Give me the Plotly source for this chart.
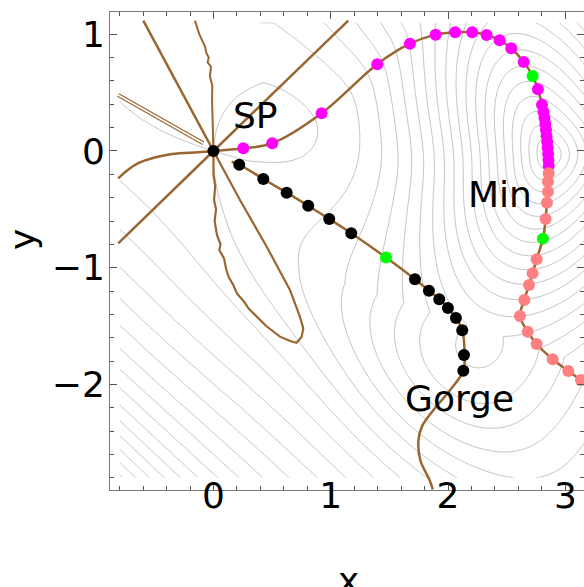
import numpy as np
import plotly.graph_objects as go

# ---------------- data ----------------
sp_x = [0.0]
sp_y = [0.0]

black_x = [0.220, 0.425, 0.624, 0.808, 0.987, 1.175, 1.718, 1.837, 1.925, 1.999, 2.067, 2.121, 2.136, 2.130]
black_y = [-0.117, -0.240, -0.357, -0.469, -0.583, -0.705, -1.099, -1.197, -1.271, -1.345, -1.431, -1.536, -1.748, -1.883]

green_x = [1.471, 2.721, 2.809]
green_y = [-0.913, 0.643, -0.751]

magenta_x = [0.254, 0.501, 0.922, 1.396, 1.675, 1.894, 2.061, 2.206, 2.329, 2.440, 2.539, 2.645,
             2.766, 2.801, 2.814, 2.822, 2.829, 2.835, 2.840, 2.845, 2.849, 2.853, 2.856, 2.858]
magenta_y = [0.023, 0.066, 0.323, 0.744, 0.919, 0.997, 1.017, 1.017, 0.994, 0.949, 0.880, 0.763,
             0.529, 0.397, 0.334, 0.283, 0.231, 0.180, 0.129, 0.077, 0.026, -0.026, -0.077, -0.129]

pink_x = [2.858, 2.852, 2.852, 2.843, 2.832, 2.755, 2.721, 2.690, 2.650, 2.613, 2.679, 2.755, 2.892, 3.025, 3.133]
pink_y = [-0.191, -0.263, -0.349, -0.443, -0.583, -0.928, -1.048, -1.148, -1.277, -1.414, -1.548, -1.654, -1.785, -1.885, -1.962]

# brown curves
upper_path_x = [0.0, 0.254, 0.501, 0.922, 1.396, 1.675, 1.894, 2.061, 2.206, 2.329, 2.440, 2.539, 2.645, 2.721,
                2.766, 2.801, 2.829, 2.845, 2.858, 2.858, 2.852, 2.843, 2.832, 2.809, 2.755, 2.721, 2.690, 2.650,
                2.613, 2.679, 2.755, 2.892, 3.025, 3.133, 3.17]
upper_path_y = [0.0, 0.023, 0.066, 0.323, 0.744, 0.919, 0.997, 1.017, 1.017, 0.994, 0.949, 0.880, 0.763, 0.643,
                0.529, 0.397, 0.231, 0.077, -0.077, -0.191, -0.349, -0.443, -0.583, -0.751, -0.928, -1.048, -1.148, -1.277,
                -1.414, -1.548, -1.654, -1.785, -1.885, -1.962, -1.99]

gorge_path_x = [0.155, 0.220, 0.425, 0.624, 0.808, 0.987, 1.175, 1.471, 1.718, 1.837, 1.925, 1.999, 2.067, 2.121,
                2.140, 2.130, 2.018, 1.876, 1.777, 1.748, 1.763, 1.842, 1.870]
gorge_path_y = [-0.092, -0.117, -0.240, -0.357, -0.469, -0.583, -0.705, -0.913, -1.099, -1.197, -1.271, -1.345, -1.431, -1.536,
                -1.700, -1.883, -2.048, -2.219, -2.362, -2.476, -2.648, -2.819, -2.90]

ray_ur_x = [0.0, 1.149]
ray_ur_y = [0.0, 1.117]
ray_ul_x = [0.0, -0.598]
ray_ul_y = [0.0, 1.117]
ray_ll_x = [0.0, -0.812]
ray_ll_y = [0.0, -0.791]
hollow_x = [-0.812, -0.087]
hollow_y = [0.480, 0.066]
left_curve_x = [0.0, -0.130, -0.356, -0.641, -0.812]
left_curve_y = [0.0, -0.011, -0.026, -0.105, -0.234]
jag_up_x = [-0.158, -0.120, -0.072, -0.060, -0.040, -0.050, -0.021, -0.030, -0.010, -0.012, 0.0]
jag_up_y = [1.117, 1.000, 0.894, 0.840, 0.800, 0.760, 0.722, 0.640, 0.560, 0.437, 0.0]
loop_x = [0.0, 0.226, 0.454, 0.652, 0.737, 0.766, 0.752, 0.709, 0.660, 0.567, 0.450, 0.370, 0.300, 0.260,
          0.200, 0.170, 0.130, 0.110, 0.090, 0.050, 0.060, 0.030, 0.020, 0.010, 0.022, 0.005, 0.015, 0.0, 0.0]
loop_y = [0.0, -0.420, -0.820, -1.191, -1.420, -1.520, -1.591, -1.643, -1.630, -1.591, -1.500, -1.420, -1.350, -1.290,
          -1.220, -1.150, -1.080, -1.020, -0.920, -0.850, -0.800, -0.720, -0.660, -0.600, -0.500, -0.420, -0.300, -0.200, 0.0]

labels = ["SP", "Min", "Gorge"]
label_x = [0.362, 2.442, 2.101]
label_y = [0.300, -0.375, -2.118]

x_ticks = [0, 1, 2, 3]
y_ticks = [-2, -1, 0, 1]
y_ticktext = ["\u22122", "\u22121", "0", "1"]

# ---------------- model surface for the grey contours ----------------
xs = np.linspace(-0.8, 3.2, 320)
ys = np.linspace(-2.8, 1.1, 320)
X, Y = np.meshgrid(xs, ys)


def softplus(t):
    return np.logaddexp(0.0, t)


def seg_r(px, py, a, b, alpha, s_start=0.0):
    ax, ay = a
    bx, by = b
    vx, vy = bx - ax, by - ay
    L2 = vx * vx + vy * vy
    t = np.clip(((px - ax) * vx + (py - ay) * vy) / L2, 0, 1)
    d2 = (px - ax - t * vx) ** 2 + (py - ay - t * vy) ** 2
    return np.sqrt(d2 + (s_start + alpha * t * np.sqrt(L2)) ** 2)


def field(px, py):
    B = 1.83 * np.exp(-0.6 * (px + py))
    M = (2.86, -0.03)
    P1 = (2.3, 1.3)
    P2 = (0.6, 1.6)
    s1 = 0.5 * np.hypot(P1[0] - M[0], P1[1] - M[1])
    r1 = seg_r(px, py, M, P1, 0.5)
    r2 = seg_r(px, py, P1, P2, 0.35, s1)
    r3 = seg_r(px, py, M, (2.35, -1.55), 0.6)
    w = 0.06
    r = -w * np.log(np.exp(-r1 / w) + np.exp(-r2 / w) + np.exp(-r3 / w))
    FM = -15 * 0.3 * softplus((1.2 - r) / 0.3)
    gx, gy = 1.95, -2.15
    ug = -0.72 * (px - gx) + 0.70 * (py - gy)
    vg = 0.70 * (px - gx) + 0.72 * (py - gy)
    FG = -2.0 * np.exp(-ug ** 2 / (2 * 1.5 ** 2) - vg ** 2 / (2 * 0.5 ** 2))
    return B + FM + FG


h = 1e-4
g0x = (field(h, 0.0) - field(-h, 0.0)) / (2 * h)
g0y = (field(0.0, h) - field(0.0, -h)) / (2 * h)
Wn = np.exp(-(X ** 2 + Y ** 2) / 3.0)
Z = field(X, Y) - (g0x * X + g0y * Y) * Wn + 1.2 * X * Y * np.exp(-(X ** 2 + Y ** 2) / 1.5)
f_sp = float(field(0.0, 0.0))
level_start = f_sp - 40.0
level_end = f_sp + 40.0

GREY = "#b3b3b3"
BROWN = "#9a6632"
FONT = "DejaVu Sans"

fig = go.Figure()
fig.add_trace(go.Contour(x=xs, y=ys, z=Z, contours=dict(start=level_start, end=level_end, size=1, coloring="lines"),
                         colorscale=[[0, GREY], [1, GREY]], showscale=False, line=dict(width=0.8),
                         hoverinfo="skip"))


def brown(xv, yv, w=2.5, shape="linear", color=BROWN):
    fig.add_trace(go.Scatter(x=xv, y=yv, mode="lines", line=dict(color=color, width=w, shape=shape),
                             hoverinfo="skip", showlegend=False))


brown(ray_ur_x, ray_ur_y)
brown(ray_ul_x, ray_ul_y)
brown(ray_ll_x, ray_ll_y)
brown(hollow_x, hollow_y, w=4)
brown(hollow_x, hollow_y, w=1.6, color="white")
brown(left_curve_x, left_curve_y, shape="spline")
brown(jag_up_x, jag_up_y, w=2)
brown(loop_x, loop_y, w=2.2)
brown(upper_path_x, upper_path_y, shape="spline")
brown(gorge_path_x, gorge_path_y, shape="spline")


def dots(xv, yv, color):
    fig.add_trace(go.Scatter(x=xv, y=yv, mode="markers", marker=dict(color=color, size=12, line=dict(width=0)),
                             hoverinfo="skip", showlegend=False))


dots(magenta_x, magenta_y, "#ff00ff")
dots(pink_x, pink_y, "#ff8080")
dots(black_x, black_y, "black")
dots(sp_x, sp_y, "black")
dots(green_x, green_y, "#00ff00")

for t, lx, ly in zip(labels, label_x, label_y):
    fig.add_annotation(x=lx, y=ly, text=t, showarrow=False, font=dict(family=FONT, size=36, color="black"))

fig.add_annotation(xref="paper", yref="paper", x=(348 - 110) / 474, y=(490 - 580) / 478, text="x",
                   xanchor="center", yanchor="middle",
                   showarrow=False, font=dict(family=FONT, size=36, color="black"))
fig.add_annotation(xref="paper", yref="paper", x=(22 - 110) / 474, y=(490 - 240) / 478, text="y", textangle=-90,
                   xanchor="center", yanchor="middle",
                   showarrow=False, font=dict(family=FONT, size=36, color="black"))

axis_common = dict(showgrid=False, zeroline=False, showline=True, mirror="allticks", linecolor="#777777",
                   linewidth=1, ticks="inside", ticklen=7, tickcolor="#555555",
                   tickfont=dict(family=FONT, size=36, color="black"))
fig.update_xaxes(range=[-0.882, 3.159], tickvals=x_ticks, ticktext=[str(t) for t in x_ticks], ticklabelstandoff=-26,
                 minor=dict(dtick=0.2, ticks="inside", ticklen=4, tickcolor="#555555"), **axis_common)
fig.update_yaxes(range=[-2.905, 1.191], tickvals=y_ticks, ticktext=y_ticktext, ticklabelstandoff=-3,
                 minor=dict(dtick=0.2, ticks="inside", ticklen=4, tickcolor="#555555"), **axis_common)
fig.update_layout(width=584, height=587, margin=dict(l=110, r=0, t=12, b=97),
                  paper_bgcolor="white", plot_bgcolor="white", showlegend=False)
fig.write_html("out.html")
